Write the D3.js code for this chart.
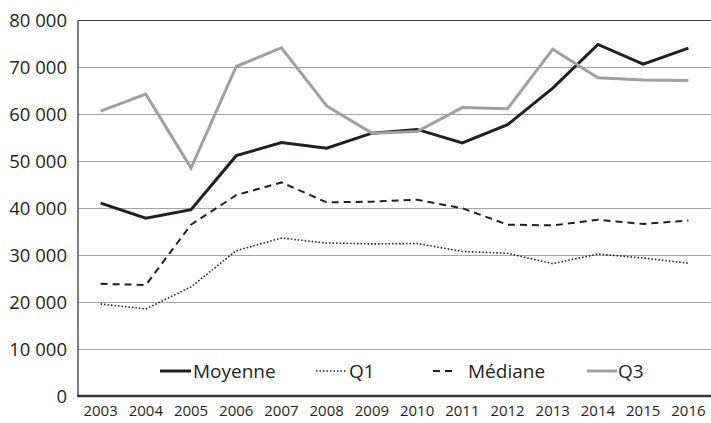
<!DOCTYPE html>
<html>
<head>
<meta charset="utf-8">
<script src="https://cdn.jsdelivr.net/npm/d3@7"></script>
<style>
  body { margin: 0; background: #fff; }
  text { font-family: "Open Sans", sans-serif; fill: #231f20; }
</style>
</head>
<body>
<svg id="chart" width="711" height="423"></svg>
<script>
// data
const years = ["2003","2004","2005","2006","2007","2008","2009","2010","2011","2012","2013","2014","2015","2016"];
const moyenne = [41100, 37900, 39700, 51200, 54000, 52800, 56000, 56800, 53900, 57800, 65600, 74900, 70700, 74100];
const q1 = [19600, 18550, 23250, 30950, 33650, 32600, 32400, 32500, 30800, 30400, 28200, 30250, 29400, 28300];
const mediane = [23900, 23650, 36500, 42800, 45500, 41250, 41400, 41800, 40000, 36500, 36350, 37550, 36650, 37400];
const q3 = [60700, 64300, 48550, 70200, 74200, 61800, 56000, 56350, 61450, 61200, 73900, 67800, 67300, 67200];
const yTicks = [0, 10000, 20000, 30000, 40000, 50000, 60000, 70000, 80000];

const series = [
    { name: "Moyenne", values: moyenne, color: "#231f20", width: 3, dash: null },
    { name: "Q1", values: q1, color: "#231f20", width: 1.6, dash: "1.5,2" },
    { name: "Médiane", values: mediane, color: "#231f20", width: 2, dash: "7,5" },
    { name: "Q3", values: q3, color: "#a0a0a0", width: 3, dash: null }
];

const margin = { top: 20.5, right: 0, bottom: 27, left: 78 };
const width = 711, height = 423;

const svg = d3.select("#chart");

const x = d3.scaleBand()
    .domain(years)
    .range([margin.left, width - margin.right]);

const y = d3.scaleLinear()
    .domain([0, 80000])
    .range([height - margin.bottom, margin.top]);

const fmt = v => d3.format(",")(v).replace(/,/g, " ");

// gridlines
svg.append("g")
    .selectAll("line")
    .data(yTicks.filter(d => d > 0 && d < 80000))
    .join("line")
    .attr("x1", margin.left)
    .attr("x2", width - margin.right)
    .attr("y1", d => Math.round(y(d)) + 0.5)
    .attr("y2", d => Math.round(y(d)) + 0.5)
    .attr("stroke", "#a6a6a6")
    .attr("stroke-width", 1);

// top border
svg.append("line")
    .attr("x1", margin.left).attr("x2", width)
    .attr("y1", y(80000)).attr("y2", y(80000))
    .attr("stroke", "#404040").attr("stroke-width", 1.2);

// y labels
svg.append("g")
    .selectAll("text")
    .data(yTicks)
    .join("text")
    .attr("x", 67)
    .attr("y", d => y(d))
    .attr("dy", "0.36em")
    .attr("text-anchor", "end")
    .style("font-size", "18.5px")
    .text(d => fmt(d));

// x labels
svg.append("g")
    .selectAll("text")
    .data(years)
    .join("text")
    .attr("x", d => x(d) + x.bandwidth() / 2)
    .attr("y", 416)
    .attr("text-anchor", "middle")
    .style("font-size", "15px")
    .text(d => d);

// lines
const line = vals => d3.line()
    .x((d, i) => x(years[i]) + x.bandwidth() / 2)
    .y(d => y(d))(vals);

series.forEach(s => {
    svg.append("path")
        .attr("d", line(s.values))
        .attr("fill", "none")
        .attr("stroke", s.color)
        .attr("stroke-width", s.width)
        .attr("stroke-dasharray", s.dash)
        .attr("stroke-linejoin", "miter");
});

// axes lines
svg.append("line")
    .attr("x1", margin.left).attr("x2", margin.left)
    .attr("y1", y(80000)).attr("y2", y(0))
    .attr("stroke", "#555").attr("stroke-width", 1.5);
svg.append("line")
    .attr("x1", margin.left - 0.75).attr("x2", width)
    .attr("y1", y(0)).attr("y2", y(0))
    .attr("stroke", "#333").attr("stroke-width", 2.5);

// legend
const legendY = 371;
const legendItems = [
    { s: series[0], x1: 160, x2: 191, tx: 193 },
    { s: series[1], x1: 316, x2: 346, tx: 349 },
    { s: series[2], x1: 433, x2: 455, tx: 468 },
    { s: series[3], x1: 587, x2: 617, tx: 618 }
];
legendItems.forEach(d => {
    svg.append("line")
        .attr("x1", d.x1).attr("x2", d.x2)
        .attr("y1", legendY).attr("y2", legendY)
        .attr("stroke", d.s.color)
        .attr("stroke-width", d.s.width)
        .attr("stroke-dasharray", d.s.dash);
    svg.append("text")
        .attr("x", d.tx)
        .attr("y", legendY)
        .attr("dy", "0.36em")
        .style("font-size", "19px")
        .text(d.s.name);
});
</script>
</body>
</html>
